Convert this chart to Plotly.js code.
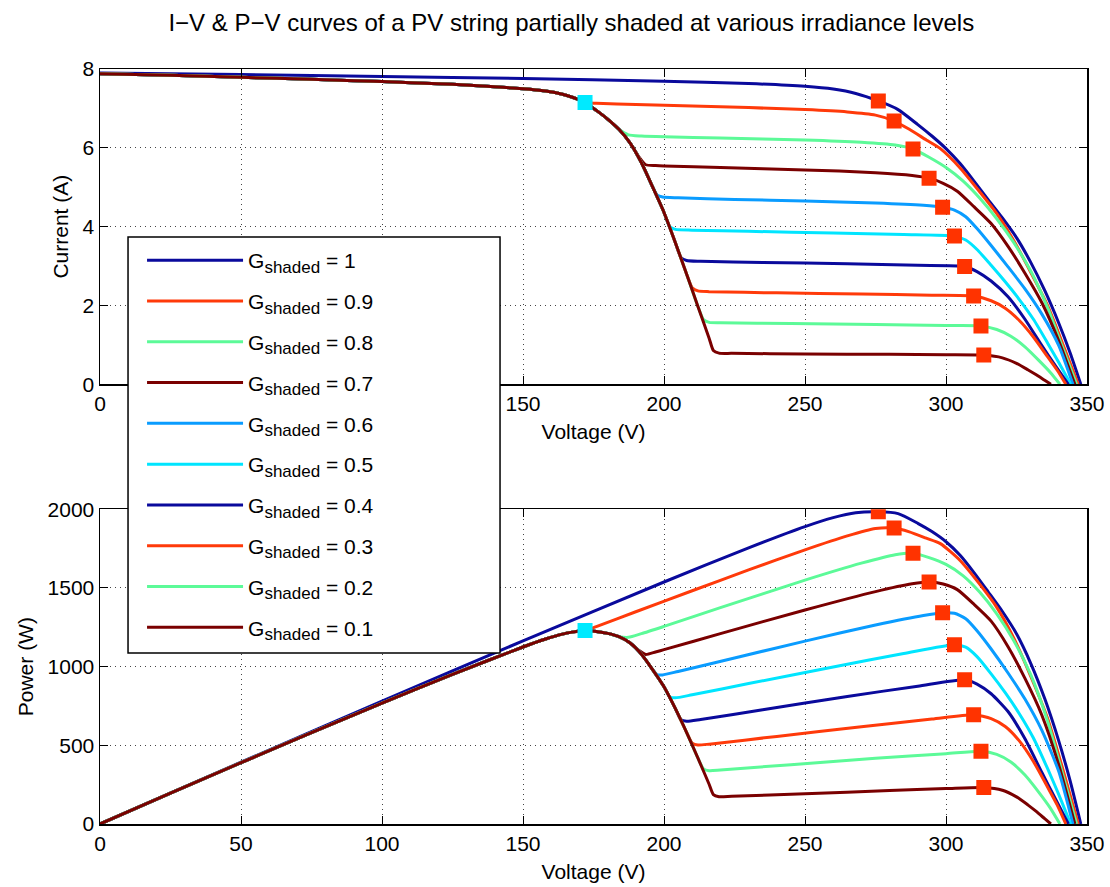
<!DOCTYPE html>
<html><head><meta charset="utf-8">
<script src="https://cdn.plot.ly/plotly-3.0.1.min.js"></script>
<style>html,body{margin:0;padding:0;background:#fff}#chart{width:1110px;height:887px}</style>
</head><body><div id="chart"></div>
<script>
// ---------- DATA ----------
const shadingLevels = ['1', '0.9', '0.8', '0.7', '0.6', '0.5', '0.4', '0.3', '0.2', '0.1'];
const curveColors = ['#0a0a9c', '#ff3a0a', '#5cfa98', '#7a0000', '#0a9cff', '#00e5ff', '#0a0a9c', '#ff3a0a', '#5cfa98', '#7a0000'];

// unshaded string (G = 1)
const voltageFull = [0, 50, 100, 150, 200, 230, 250, 260, 268, 276, 283, 290, 295, 300, 305, 310, 315, 320, 325, 330, 335, 340, 344, 347.8];
const currentFull = [7.90, 7.86, 7.81, 7.76, 7.69, 7.63, 7.56, 7.49, 7.38, 7.19, 6.97, 6.59, 6.30, 5.98, 5.60, 5.15, 4.68, 4.22, 3.72, 3.10, 2.38, 1.55, 0.80, 0];
const powerFull = [0, 393, 781, 1164, 1538, 1755, 1890, 1947, 1978, 1984, 1972.5, 1911.1, 1858.5, 1794, 1708, 1596.5, 1474.2, 1350.4, 1209, 1023, 797.3, 527, 275.2, 0];

// common section of the shaded curves (unshaded modules only)
const voltageCommon = [0, 25, 50, 75, 100, 125, 150, 158, 164, 168, 172];
const currentCommon = [7.88, 7.84, 7.79, 7.74, 7.68, 7.61, 7.50, 7.44, 7.36, 7.27, 7.15];
const powerCommon = [0, 196, 389.5, 580.5, 768, 951, 1125, 1175.5, 1207, 1221, 1230];

// common steep descent (bypass diodes of shaded modules not yet conducting)
const voltageDescent = [176, 180, 184, 188, 192, 196, 200, 204, 208, 212, 216];
const currentDescent = [6.95, 6.73, 6.47, 6.12, 5.62, 5.00, 4.36, 3.60, 2.80, 1.98, 1.17];
const powerDescent = [1223.2, 1211.4, 1190.5, 1150.6, 1079, 980, 872, 734.4, 582.4, 419.8, 252.7];

// individual plateau + knee of each shaded curve
const voltageG09 = [176, 190, 210, 230, 250, 265, 275, 281.6, 287, 293, 298, 305, 312, 318, 324, 330, 336, 341, 346.9];
const currentG09 = [7.13, 7.10, 7.06, 7.02, 6.97, 6.91, 6.83, 6.68, 6.47, 6.20, 5.98, 5.49, 4.88, 4.33, 3.65, 2.85, 2.00, 1.10, 0];
const powerG09 = [1254.9, 1349, 1482.6, 1614.6, 1742.5, 1831.2, 1878.3, 1881.1, 1856.9, 1816.6, 1782, 1674.5, 1522.6, 1376.9, 1182.6, 940.5, 672, 375.1, 0];

const voltageG08 = [187.4, 192, 200, 220, 250, 270, 282, 288.3, 294, 300, 306, 312, 318, 324, 330, 336, 341, 346.3];
const currentG08 = [6.33, 6.30, 6.28, 6.25, 6.20, 6.14, 6.07, 5.97, 5.76, 5.50, 5.16, 4.72, 4.20, 3.60, 2.88, 1.95, 1.00, 0];
const powerG08 = [1186.2, 1209.6, 1256, 1375, 1550, 1657.8, 1711.7, 1721.2, 1693.4, 1650, 1579, 1472.6, 1335.6, 1166.4, 950.4, 655.2, 341, 0];

const voltageG07 = [191, 193.5, 197, 200, 220, 250, 275, 288, 294, 299, 304, 310, 316, 322, 328, 334, 340, 345.7];
const currentG07 = [5.78, 5.57, 5.55, 5.54, 5.50, 5.44, 5.37, 5.30, 5.23, 5.10, 4.90, 4.50, 4.08, 3.50, 2.82, 2.07, 1.10, 0];
const powerG07 = [1104, 1077.8, 1093.4, 1108, 1210, 1360, 1476.8, 1526.4, 1537.6, 1524.9, 1489.6, 1395, 1289.3, 1127, 925, 691.4, 374, 0];

const voltageG06 = [197.6, 199.5, 205, 225, 250, 275, 292, 298.8, 303, 307, 311, 316, 322, 328, 334, 340, 345];
const currentG06 = [4.80, 4.75, 4.73, 4.69, 4.65, 4.60, 4.54, 4.49, 4.42, 4.25, 3.95, 3.52, 2.98, 2.42, 1.78, 0.98, 0];
const powerG06 = [948.5, 947.6, 969.7, 1055.3, 1162.5, 1265, 1325.7, 1341.6, 1339.3, 1304.8, 1228.5, 1112.3, 959.6, 793.8, 594.5, 333.2, 0];

const voltageG05 = [202, 204, 210, 230, 260, 285, 303, 307, 311, 316, 321, 326, 331, 336, 340, 344.2];
const currentG05 = [4.00, 3.93, 3.91, 3.88, 3.84, 3.80, 3.76, 3.66, 3.42, 3.02, 2.60, 2.15, 1.65, 1.05, 0.55, 0];
const powerG05 = [808, 801.7, 821.1, 892.4, 998.4, 1083, 1139.3, 1123.6, 1063.6, 954.3, 834.6, 700.9, 546.2, 352.8, 187, 0];

const voltageG04 = [206, 208, 213, 235, 265, 290, 306.6, 311, 316, 322, 328, 334, 339, 343.4];
const currentG04 = [3.22, 3.14, 3.12, 3.09, 3.06, 3.02, 2.99, 2.86, 2.62, 2.22, 1.65, 0.98, 0.45, 0];
const powerG04 = [663.3, 653.1, 664.6, 726.2, 810.9, 875.8, 916.7, 889.5, 827.9, 714.8, 541.2, 327.3, 152.6, 0];

const voltageG03 = [210, 212, 216, 240, 270, 295, 309.8, 316, 321, 326, 331, 336, 339.5, 342.5];
const currentG03 = [2.45, 2.37, 2.35, 2.32, 2.29, 2.26, 2.24, 2.12, 1.93, 1.62, 1.20, 0.70, 0.35, 0];
const powerG03 = [514.5, 502.4, 507.6, 556.8, 618.3, 666.7, 694, 669.9, 619.5, 528.1, 397.2, 235.2, 118.8, 0];

const voltageG02 = [214, 216, 220, 245, 275, 300, 312.4, 318, 323, 328, 333, 337, 340.4];
const currentG02 = [1.64, 1.57, 1.56, 1.54, 1.52, 1.49, 1.48, 1.39, 1.22, 0.95, 0.60, 0.30, 0];
const powerG02 = [351, 339.1, 343.2, 377.3, 418, 447, 462.4, 442, 394.1, 311.6, 199.8, 101.1, 0];

const voltageG01 = [217.5, 219.5, 224, 250, 280, 300, 313.4, 320, 325, 329, 332, 335, 337.2];
const currentG01 = [0.86, 0.79, 0.785, 0.77, 0.76, 0.75, 0.74, 0.67, 0.53, 0.37, 0.24, 0.10, 0];
const powerG01 = [187.1, 173.4, 175.8, 192.5, 212.8, 225, 231.9, 214.4, 172.3, 121.7, 79.7, 33.5, 0];

// global maximum power points (one per curve)
const mppVoltage = [276, 281.6, 288.3, 294, 298.8, 303, 306.6, 309.8, 312.4, 313.4];
const mppCurrent = [7.19, 6.68, 5.97, 5.23, 4.49, 3.76, 2.99, 2.24, 1.48, 0.74];
const mppPower = [1984, 1881, 1721, 1538, 1342, 1139, 917, 694, 462, 232];

// local maximum power point shared by the shaded curves
const localMppVoltage = [172];
const localMppCurrent = [7.15];
const localMppPower = [1230];

const xTicks = [0, 50, 100, 150, 200, 250, 300, 350];
const currentTicks = [0, 2, 4, 6, 8];
const powerTicks = [0, 500, 1000, 1500, 2000];

// ---------- BUILD ----------
const tails = [
  [voltageG09, currentG09, powerG09], [voltageG08, currentG08, powerG08],
  [voltageG07, currentG07, powerG07], [voltageG06, currentG06, powerG06],
  [voltageG05, currentG05, powerG05], [voltageG04, currentG04, powerG04],
  [voltageG03, currentG03, powerG03], [voltageG02, currentG02, powerG02],
  [voltageG01, currentG01, powerG01]
];
const curves = [[voltageFull, currentFull, powerFull]];
tails.forEach(t => {
  const idx = voltageDescent.map((v, k) => k).filter(k => voltageDescent[k] < t[0][0]);
  curves.push([
    voltageCommon.concat(idx.map(k => voltageDescent[k]), t[0]),
    currentCommon.concat(idx.map(k => currentDescent[k]), t[1]),
    powerCommon.concat(idx.map(k => powerDescent[k]), t[2])
  ]);
});

const FONT = 'Liberation Sans, Arial, Helvetica, sans-serif';
const traces = [];
curves.forEach((c, k) => {
  traces.push({
    x: c[0], y: c[1], type: 'scatter', mode: 'lines', xaxis: 'x', yaxis: 'y',
    line: {color: curveColors[k], width: 3, shape: 'spline', smoothing: 0.6},
    name: 'G<sub><span style="font-size:17px">shaded</span></sub> = ' + shadingLevels[k],
    legendgroup: 'g' + k, hoverinfo: 'skip'
  });
});
curves.forEach((c, k) => {
  traces.push({
    x: c[0], y: c[2], type: 'scatter', mode: 'lines', xaxis: 'x2', yaxis: 'y2',
    line: {color: curveColors[k], width: 3, shape: 'spline', smoothing: 0.6},
    showlegend: false, hoverinfo: 'skip'
  });
});
const mk = {symbol: 'square', size: 15, color: '#ff3300'};
const mkc = {symbol: 'square', size: 15, color: '#00eaff'};
traces.push({x: mppVoltage, y: mppCurrent, xaxis: 'x', yaxis: 'y', mode: 'markers', marker: mk, showlegend: false, hoverinfo: 'skip'});
traces.push({x: mppVoltage, y: mppPower, xaxis: 'x2', yaxis: 'y2', mode: 'markers', marker: mk, showlegend: false, hoverinfo: 'skip'});
traces.push({x: localMppVoltage, y: localMppCurrent, xaxis: 'x', yaxis: 'y', mode: 'markers', marker: mkc, showlegend: false, hoverinfo: 'skip'});
traces.push({x: localMppVoltage, y: localMppPower, xaxis: 'x2', yaxis: 'y2', mode: 'markers', marker: mkc, showlegend: false, hoverinfo: 'skip'});

const axisBase = {
  showline: true, linecolor: '#000', linewidth: 1.5, mirror: 'ticks',
  ticks: 'inside', ticklen: 8, tickwidth: 1, tickcolor: '#000',
  showgrid: true, gridcolor: '#444', gridwidth: 1, griddash: '1px,4px',
  zeroline: false, tickfont: {family: FONT, size: 21, color: '#000'}
};
const titleFont = {family: FONT, size: 21, color: '#000'};

const layout = {
  width: 1110, height: 887,
  margin: {l: 100, r: 23, t: 69, b: 63},
  paper_bgcolor: '#fff', plot_bgcolor: '#fff',
  title: {text: 'I\u2212V &amp; P\u2212V curves of a PV string partially shaded at various irradiance levels',
          font: {family: FONT, size: 24, color: '#000'}, x: 0.4775, xref: 'paper', xanchor: 'center', y: 0.975, yanchor: 'middle'},
  xaxis: Object.assign({}, axisBase, {domain: [0, 1], range: [0, 350], tickvals: xTicks, anchor: 'y',
          title: {text: 'Voltage (V)', font: titleFont, standoff: 10}}),
  yaxis: Object.assign({}, axisBase, {domain: [0.5824, 1], range: [0, 8], tickvals: currentTicks, anchor: 'x',
          title: {text: 'Current (A)', font: titleFont, standoff: 8}}),
  xaxis2: Object.assign({}, axisBase, {domain: [0, 1], range: [0, 350], tickvals: xTicks, anchor: 'y2',
          title: {text: 'Voltage (V)', font: titleFont, standoff: 10}}),
  yaxis2: Object.assign({}, axisBase, {domain: [0, 0.4168], range: [0, 2000], tickvals: powerTicks, anchor: 'x2',
          title: {text: 'Power (W)', font: titleFont, standoff: 8}}),
  shapes: [{type: 'rect', xref: 'paper', yref: 'paper', x0: 0.0284, x1: 0.4053, y0: 0.2265, y1: 0.7775,
            fillcolor: '#fff', line: {color: '#000', width: 1.5}, layer: 'above'}],
  showlegend: true,
  legend: {x: 0.0426, y: 0.7735, xanchor: 'left', yanchor: 'top', bgcolor: 'rgba(0,0,0,0)', borderwidth: 0,
           font: {family: FONT, size: 21, color: '#000'}, itemwidth: 96, tracegroupgap: 10.5, traceorder: 'grouped'}
};

Plotly.newPlot('chart', traces, layout, {staticPlot: true, displayModeBar: false});
</script></body></html>
